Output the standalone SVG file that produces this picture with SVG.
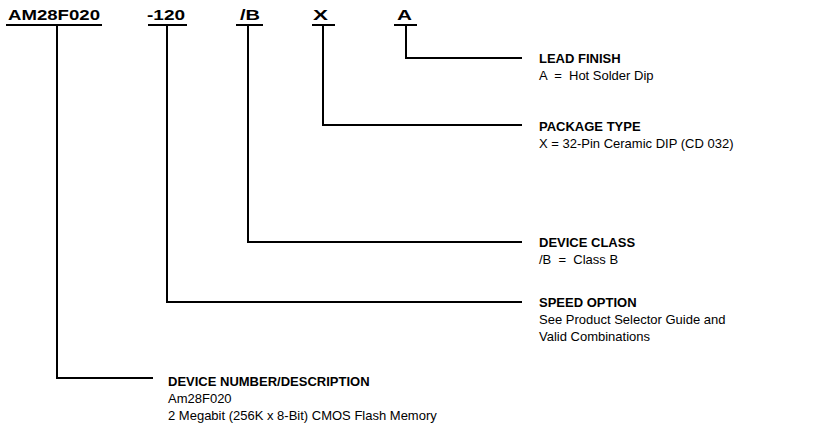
<svg xmlns="http://www.w3.org/2000/svg" width="835" height="439" viewBox="0 0 835 439">
<style>
.code{font-family:"Liberation Sans",Arial,sans-serif;font-weight:bold;font-size:15px;fill:#000}
.h{font-family:"Liberation Sans",Arial,sans-serif;font-weight:bold;font-size:13px;fill:#000}
.t{font-family:"Liberation Sans",Arial,sans-serif;font-size:13px;fill:#000}
.ln{fill:none;stroke:#000;stroke-width:2}
</style>
<rect width="835" height="439" fill="#fff"/>
<g id="codes">
<g id="code-device"><text class="code" x="8" y="20" textLength="92" lengthAdjust="spacingAndGlyphs">AM28F020</text><line class="ln" x1="6" y1="25" x2="102" y2="25"/></g>
<g id="code-speed"><text class="code" x="147" y="20" textLength="38" lengthAdjust="spacingAndGlyphs">-120</text><line class="ln" x1="148" y1="25" x2="187" y2="25"/></g>
<g id="code-class"><text class="code" x="240" y="20" textLength="20" lengthAdjust="spacingAndGlyphs">/B</text><line class="ln" x1="236" y1="25" x2="263" y2="25"/></g>
<g id="code-package"><text class="code" x="313" y="20" textLength="15" lengthAdjust="spacingAndGlyphs">X</text><line class="ln" x1="312" y1="25" x2="335" y2="25"/></g>
<g id="code-lead"><text class="code" x="397" y="20" textLength="15" lengthAdjust="spacingAndGlyphs">A</text><line class="ln" x1="394" y1="25" x2="417" y2="25"/></g>
</g>
<g id="connectors">
<path class="ln" d="M406,25 V58 H522"/>
<path class="ln" d="M323,25 V125 H522"/>
<path class="ln" d="M248,25 V242 H522"/>
<path class="ln" d="M167,25 V302 H522"/>
<path class="ln" d="M57,25 V378 H153"/>
</g>
<g id="lead-finish"><text class="h" x="539" y="63">LEAD FINISH</text><text class="t" x="539" y="80" xml:space="preserve">A  =  Hot Solder Dip</text></g>
<g id="package-type"><text class="h" x="539" y="131">PACKAGE TYPE</text><text class="t" x="539" y="148" xml:space="preserve">X = 32-Pin Ceramic DIP (CD 032)</text></g>
<g id="device-class"><text class="h" x="539" y="247">DEVICE CLASS</text><text class="t" x="539" y="264" xml:space="preserve">/B  =  Class B</text></g>
<g id="speed-option"><text class="h" x="539" y="307">SPEED OPTION</text><text class="t" x="539" y="324">See Product Selector Guide and</text><text class="t" x="539" y="341">Valid Combinations</text></g>
<g id="device-number"><text class="h" x="168" y="386">DEVICE NUMBER/DESCRIPTION</text><text class="t" x="168" y="403">Am28F020</text><text class="t" x="168" y="420">2 Megabit (256K x 8-Bit) CMOS Flash Memory</text></g>
</svg>
